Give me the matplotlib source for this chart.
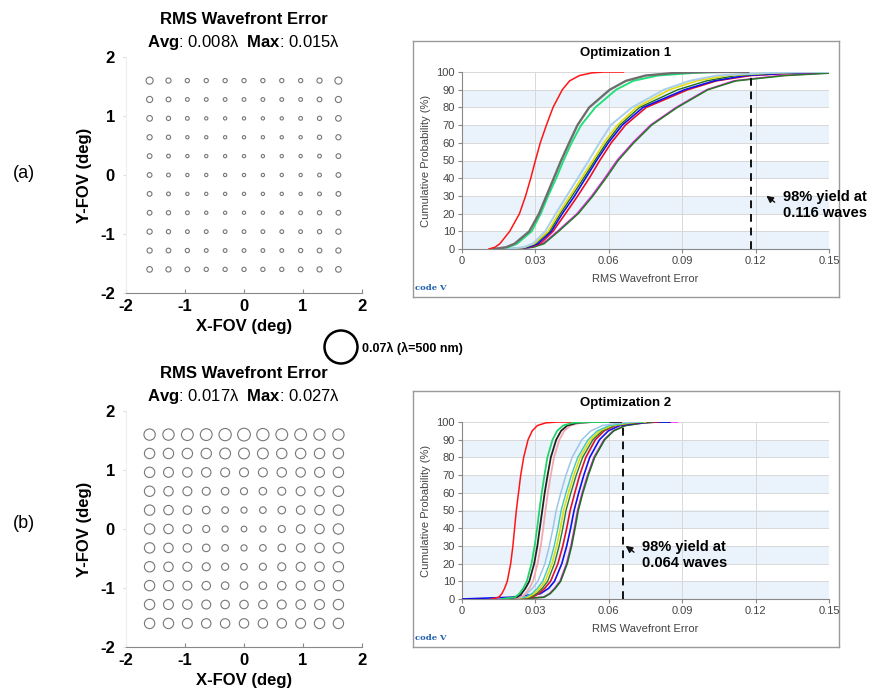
import numpy as np
import matplotlib
matplotlib.use("Agg")
import matplotlib.pyplot as plt

plt.rcParams['font.family'] = ['Liberation Sans', 'DejaVu Sans']
plt.rcParams['mathtext.fontset'] = 'custom'
plt.rcParams['mathtext.rm'] = 'Liberation Sans'
plt.rcParams['mathtext.bf'] = 'Liberation Sans:bold'
plt.rcParams['axes.unicode_minus'] = False

# ---- field grid (deg) ----
fov_pos = [-1.6, -1.28, -0.96, -0.64, -0.32, 0.0, 0.32, 0.64, 0.96, 1.28, 1.6]

# RMS wavefront error (waves) per field point, rows top (y=1.6) to bottom (y=-1.6)
rms_a = [
    [0.015, 0.011, 0.009, 0.009, 0.009, 0.009, 0.009, 0.009, 0.009, 0.011, 0.015],
    [0.013, 0.010, 0.008, 0.008, 0.008, 0.008, 0.008, 0.008, 0.008, 0.010, 0.013],
    [0.012, 0.009, 0.008, 0.007, 0.007, 0.007, 0.007, 0.007, 0.008, 0.009, 0.012],
    [0.011, 0.009, 0.007, 0.007, 0.007, 0.007, 0.007, 0.007, 0.007, 0.009, 0.011],
    [0.010, 0.008, 0.007, 0.007, 0.007, 0.007, 0.007, 0.007, 0.007, 0.008, 0.010],
    [0.010, 0.008, 0.007, 0.007, 0.007, 0.007, 0.007, 0.007, 0.007, 0.008, 0.010],
    [0.010, 0.008, 0.007, 0.007, 0.007, 0.007, 0.007, 0.007, 0.007, 0.008, 0.010],
    [0.010, 0.009, 0.008, 0.007, 0.007, 0.007, 0.007, 0.007, 0.008, 0.009, 0.010],
    [0.011, 0.009, 0.008, 0.008, 0.008, 0.008, 0.008, 0.008, 0.008, 0.009, 0.011],
    [0.011, 0.010, 0.009, 0.008, 0.008, 0.008, 0.008, 0.008, 0.009, 0.010, 0.011],
    [0.012, 0.011, 0.010, 0.009, 0.009, 0.009, 0.009, 0.009, 0.010, 0.011, 0.012],
]
rms_b = [
    [0.024, 0.024, 0.025, 0.025, 0.026, 0.027, 0.026, 0.025, 0.025, 0.024, 0.024],
    [0.022, 0.022, 0.022, 0.022, 0.023, 0.023, 0.023, 0.022, 0.022, 0.022, 0.022],
    [0.022, 0.021, 0.020, 0.020, 0.019, 0.019, 0.019, 0.020, 0.020, 0.021, 0.022],
    [0.022, 0.020, 0.019, 0.017, 0.016, 0.015, 0.016, 0.017, 0.019, 0.020, 0.022],
    [0.022, 0.020, 0.018, 0.016, 0.014, 0.013, 0.014, 0.016, 0.018, 0.020, 0.022],
    [0.022, 0.020, 0.018, 0.015, 0.013, 0.012, 0.013, 0.015, 0.018, 0.020, 0.022],
    [0.022, 0.020, 0.018, 0.016, 0.014, 0.013, 0.014, 0.016, 0.018, 0.020, 0.022],
    [0.022, 0.020, 0.019, 0.017, 0.015, 0.014, 0.015, 0.017, 0.019, 0.020, 0.022],
    [0.022, 0.021, 0.019, 0.018, 0.016, 0.016, 0.016, 0.018, 0.019, 0.021, 0.022],
    [0.022, 0.021, 0.020, 0.019, 0.018, 0.018, 0.018, 0.019, 0.020, 0.021, 0.022],
    [0.022, 0.022, 0.021, 0.020, 0.020, 0.020, 0.020, 0.020, 0.021, 0.022, 0.022],
]
legend_rms = 0.07

# ---- cumulative probability curves (x = RMS error at each probability level) ----
opt1_levels = [0, 1, 3, 10, 20, 30, 40, 50, 60, 70, 80, 90, 95, 98, 99.5, 100, 100]
opt1_red = [0.011, 0.0135, 0.0155, 0.0195, 0.0235, 0.026, 0.0281, 0.030, 0.032, 0.0345, 0.0372, 0.041, 0.044, 0.048, 0.053, 0.058, 0.066]
opt1_gray = [0.013, 0.018, 0.0215, 0.0275, 0.0315, 0.0345, 0.0375, 0.0405, 0.0438, 0.0472, 0.052, 0.0604, 0.067, 0.075, 0.087, 0.10, 0.117]
opt1_green = [0.014, 0.019, 0.0225, 0.0285, 0.0322, 0.0352, 0.0385, 0.0415, 0.0448, 0.0487, 0.0545, 0.063, 0.070, 0.080, 0.095, 0.105, 0.117]
opt1_ltblue = [0.018, 0.025, 0.029, 0.034, 0.0383, 0.0428, 0.0473, 0.0518, 0.0562, 0.0608, 0.0695, 0.0825, 0.093, 0.104, 0.125, 0.14, 0.15]
opt1_yellow = [0.019, 0.0255, 0.0295, 0.0352, 0.0395, 0.0442, 0.0488, 0.0535, 0.058, 0.0635, 0.0713, 0.0848, 0.096, 0.108, 0.127, 0.14, 0.15]
opt1_dkgreen = [0.019, 0.026, 0.030, 0.0358, 0.0402, 0.045, 0.0497, 0.0543, 0.059, 0.0645, 0.0726, 0.0882, 0.100, 0.112, 0.13, 0.145, 0.15]
opt1_blue = [0.020, 0.027, 0.031, 0.0365, 0.041, 0.046, 0.0505, 0.055, 0.0598, 0.0655, 0.074, 0.091, 0.103, 0.116, 0.135, 0.148, 0.15]
opt1_red2 = [0.020, 0.0275, 0.032, 0.0372, 0.0423, 0.0473, 0.052, 0.0563, 0.061, 0.0668, 0.0753, 0.0923, 0.104, 0.118, 0.137, 0.148, 0.15]
opt1_magenta = [0.021, 0.0285, 0.033, 0.039, 0.047, 0.053, 0.0583, 0.0633, 0.0697, 0.077, 0.0875, 0.100, 0.111, 0.130, 0.150, 0.156, 0.16]
opt1_dkgreen2 = [0.021, 0.029, 0.0335, 0.0395, 0.0475, 0.0535, 0.0588, 0.0638, 0.0702, 0.0775, 0.088, 0.1005, 0.112, 0.132, 0.152, 0.158, 0.16]

opt2_levels = [0, 1, 3, 6, 10, 20, 30, 40, 50, 60, 70, 80, 90, 95, 98, 99.5, 100, 100]
opt2_red = [0.012, 0.015, 0.0163, 0.0174, 0.0185, 0.0199, 0.0208, 0.0215, 0.0222, 0.0231, 0.024, 0.0252, 0.027, 0.0287, 0.0308, 0.0342, 0.039, 0.0444]
opt2_green = [0.016, 0.0217, 0.0234, 0.025, 0.0265, 0.0284, 0.0297, 0.0307, 0.0316, 0.0326, 0.0337, 0.0349, 0.037, 0.0389, 0.0413, 0.0451, 0.0505, 0.060]
opt2_black = [0.017, 0.0225, 0.0243, 0.0259, 0.0275, 0.0295, 0.0308, 0.0318, 0.0328, 0.0338, 0.035, 0.0363, 0.0385, 0.0405, 0.043, 0.047, 0.053, 0.065]
opt2_pink = [0.018, 0.0242, 0.0259, 0.0275, 0.029, 0.0309, 0.0322, 0.0332, 0.0341, 0.0351, 0.0363, 0.0376, 0.0398, 0.0418, 0.0444, 0.0484, 0.054, 0.066]
opt2_ltblue = [0.016, 0.0239, 0.0265, 0.0288, 0.031, 0.0339, 0.0357, 0.0372, 0.0385, 0.0404, 0.0425, 0.045, 0.049, 0.0527, 0.0574, 0.0647, 0.068, 0.072]
opt2_teal = [0.017, 0.0259, 0.0285, 0.0308, 0.033, 0.0358, 0.0377, 0.0392, 0.0405, 0.0425, 0.0447, 0.0473, 0.0515, 0.0553, 0.0603, 0.0675, 0.071, 0.074]
opt2_yellow = [0.017, 0.0269, 0.0295, 0.0318, 0.034, 0.0368, 0.0387, 0.0402, 0.0415, 0.0435, 0.0457, 0.0483, 0.0525, 0.0563, 0.0613, 0.0685, 0.072, 0.075]
opt2_dkgreen = [0.018, 0.0279, 0.0305, 0.0328, 0.035, 0.0378, 0.0397, 0.0412, 0.0425, 0.0445, 0.0467, 0.0493, 0.0535, 0.0573, 0.0623, 0.0695, 0.074, 0.078]
opt2_red2 = [0.018, 0.0286, 0.0314, 0.0338, 0.0362, 0.0392, 0.0412, 0.0428, 0.0442, 0.0461, 0.0481, 0.0506, 0.0545, 0.0581, 0.0627, 0.0699, 0.075, 0.080]
opt2_blue = [0.000, 0.020, 0.032, 0.0354, 0.0378, 0.0408, 0.0428, 0.0444, 0.0458, 0.0477, 0.0498, 0.0522, 0.0562, 0.0598, 0.0645, 0.0718, 0.078, 0.085]
opt2_magenta = [0.022, 0.0332, 0.0357, 0.0378, 0.040, 0.0427, 0.0445, 0.0459, 0.0472, 0.0491, 0.0513, 0.0539, 0.058, 0.0618, 0.0666, 0.0742, 0.080, 0.088]
opt2_dkgreen2 = [0.022, 0.0335, 0.036, 0.0381, 0.0403, 0.043, 0.0448, 0.0462, 0.0475, 0.0494, 0.0516, 0.0542, 0.0583, 0.062, 0.0668, 0.0742, 0.080, 0.085]

yield_98 = [0.118, 0.066]
yield_labels = ["98% yield at\n0.116 waves", "98% yield at\n0.064 waves"]

W, H = 872, 699
fig = plt.figure(figsize=(W / 100, H / 100), dpi=100)

def px_axes(x0, y0, x1, y1, **kw):
    return fig.add_axes([x0 / W, 1 - y1 / H, (x1 - x0) / W, (y1 - y0) / H], **kw)

# marker diameter in pixels per wave of RMS error (0.07 waves ~ 33 px)
px_per_wave = 33 / 0.07

def size_of(v):
    return (np.asarray(v) * px_per_wave * 0.72) ** 2

# ---------- left spot-size panels ----------
def fov_panel(y0, y1, rms, avg, mx):
    ax = px_axes(126, y0, 362, y1)
    gx, gy = np.meshgrid(fov_pos, fov_pos[::-1])
    ax.scatter(gx.ravel(), gy.ravel(), s=size_of(rms).ravel(),
               facecolors='none', edgecolors='#777777', linewidths=0.8)
    ax.set_xlim(-2, 2)
    ax.set_ylim(-2, 2)
    ax.set_xticks([-2, -1, 0, 1, 2])
    ax.set_yticks([-2, -1, 0, 1, 2])
    for lab in ax.get_xticklabels() + ax.get_yticklabels():
        lab.set_fontweight('bold')
        lab.set_fontsize(12)
    ax.tick_params(axis='x', direction='in', length=3, color='#888888', pad=4)
    ax.tick_params(axis='y', direction='out', length=2, color='#dddddd', pad=6)
    for s in ['top', 'right']:
        ax.spines[s].set_visible(False)
    ax.spines['bottom'].set_color('#888888')
    ax.spines['left'].set_color('#eeeeee')
    ax.set_xlabel('X-FOV (deg)', fontsize=12, fontweight='bold', labelpad=4)
    ax.set_ylabel('Y-FOV (deg)', fontsize=12, fontweight='bold', labelpad=6)
    ax.text(0.5, 1.0 + 37 / (y1 - y0), 'RMS Wavefront Error', transform=ax.transAxes,
            ha='center', va='center', fontsize=12, fontweight='bold')
    ax.text(0.5, 1.0 + 15 / (y1 - y0),
            r'$\mathbf{Avg}$: %sλ  $\mathbf{Max}$: %sλ' % (avg, mx),
            transform=ax.transAxes, ha='center', va='center', fontsize=12)
    return ax

fov_panel(57, 293, rms_a, '0.008', '0.015')
fov_panel(411, 647, rms_b, '0.017', '0.027')

# ---------- right CDF panels ----------
def cdf_panel(y_top, title, levels, curves, ydash, label, arrow_head):
    fy0 = y_top
    frame_ax = px_axes(413, fy0, 839, fy0 + 256)
    frame_ax.set_xticks([])
    frame_ax.set_yticks([])
    for s in frame_ax.spines.values():
        s.set_color('#9a9a9a')
        s.set_linewidth(1.0)
    frame_ax.text(0.5, 1 - 12 / 256, title, transform=frame_ax.transAxes,
                  ha='center', va='center', fontsize=9.5, fontweight='bold')
    frame_ax.text(0.004, 0.02, 'code V', transform=frame_ax.transAxes, ha='left',
                  va='bottom', fontsize=6, fontweight='bold', color='#1f5fb0',
                  family='DejaVu Serif')
    ax = px_axes(462, fy0 + 31, 829, fy0 + 208)
    for lo in range(0, 100, 20):
        ax.axhspan(lo, lo + 10, color='#eaf3fc', lw=0, zorder=0)
    for yv in range(10, 101, 10):
        ax.axhline(yv, color='#d8d8d8', lw=0.7, zorder=1)
    for xv in [0.03, 0.06, 0.09, 0.12, 0.15]:
        ax.axvline(xv, color='#d8d8d8', lw=0.7, zorder=1)
    for xs, color, lw in curves:
        ax.plot(xs, levels, color=color, lw=lw, zorder=3, solid_joinstyle='round')
    ax.plot([ydash, ydash], [0, 97], color='#111111', lw=1.4, ls=(0, (4, 3)), zorder=4)
    hx, hy = arrow_head
    ax.annotate('', xy=(hx, hy), xytext=(hx + 0.0052, hy - 5.5),
                arrowprops=dict(arrowstyle='-|>', color='#111111', lw=1.0,
                                mutation_scale=10), zorder=5)
    ax.text(hx + 0.0075, 25, label, ha='left', va='center', fontsize=10.5,
            fontweight='bold', linespacing=1.15, clip_on=False, zorder=6)
    ax.set_xlim(0, 0.15)
    ax.set_ylim(0, 100)
    ax.set_xticks([0, 0.03, 0.06, 0.09, 0.12, 0.15])
    ax.set_xticklabels(['0', '0.03', '0.06', '0.09', '0.12', '0.15'])
    ax.set_yticks(range(0, 101, 10))
    ax.tick_params(labelsize=8, colors='#444444', length=3, color='#888888', pad=2)
    for s in ['top', 'right']:
        ax.spines[s].set_visible(False)
    ax.spines['left'].set_color('#888888')
    ax.spines['bottom'].set_color('#888888')
    ax.set_xlabel('RMS Wavefront Error', fontsize=8, color='#444444', labelpad=6)
    ax.set_ylabel('Cumulative Probability (%)', fontsize=8, color='#444444', labelpad=4)

opt1_curves = [
    (opt1_magenta, '#ff22ff', 1.1), (opt1_dkgreen2, '#2a7a2a', 1.2),
    (opt1_red2, '#e8102a', 1.2), (opt1_blue, '#1010f0', 1.2),
    (opt1_dkgreen, '#1f6e1f', 1.0), (opt1_yellow, '#e6dc10', 1.2),
    (opt1_ltblue, '#a9cfea', 1.4), (opt1_green, '#22e07a', 1.4),
    (opt1_gray, '#6e6e6e', 1.7), (opt1_red, '#ff1515', 1.1),
]
opt2_curves = [
    (opt2_magenta, '#ff22ff', 1.1), (opt2_dkgreen2, '#1e6e1e', 1.2),
    (opt2_blue, '#1212e8', 1.2), (opt2_red2, '#e0102c', 1.2),
    (opt2_dkgreen, '#2a7a2a', 1.0), (opt2_yellow, '#e0dc12', 1.2),
    (opt2_teal, '#40c8b8', 1.0), (opt2_ltblue, '#9cc6ea', 1.1),
    (opt2_pink, '#f2a8b0', 1.3), (opt2_black, '#222222', 1.3),
    (opt2_green, '#22d46a', 1.3), (opt2_red, '#ff1515', 1.1),
]

cdf_panel(41, 'Optimization 1', opt1_levels, opt1_curves, yield_98[0], yield_labels[0], (0.1235, 31))
cdf_panel(391, 'Optimization 2', opt2_levels, opt2_curves, yield_98[1], yield_labels[1], (0.0660, 31))

# ---------- overlay: panel labels and size legend ----------
ov = fig.add_axes([0, 0, 1, 1], zorder=10)
ov.set_xlim(0, W)
ov.set_ylim(H, 0)
ov.axis('off')
ov.text(24, 173, '(a)', ha='center', va='center', fontsize=13)
ov.text(24, 524, '(b)', ha='center', va='center', fontsize=13)
ov.scatter([341], [347], s=size_of(legend_rms), facecolors='none',
           edgecolors='black', linewidths=1.8)
ov.text(362, 348, '0.07λ (λ=500 nm)', ha='left', va='center', fontsize=9, fontweight='bold')

fig.savefig('out.png', dpi=100)
